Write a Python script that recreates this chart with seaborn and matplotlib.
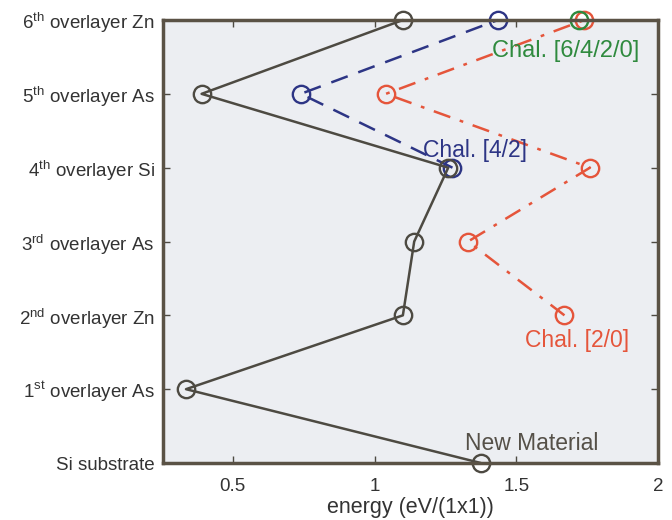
import matplotlib
matplotlib.use("Agg")
import matplotlib.pyplot as plt
import seaborn as sns

# layer labels from bottom (0) to top (6)
layers = ["Si substrate",
          "1$^{\\rm st}$ overlayer As",
          "2$^{\\rm nd}$ overlayer Zn",
          "3$^{\\rm rd}$ overlayer As",
          "4$^{\\rm th}$ overlayer Si",
          "5$^{\\rm th}$ overlayer As",
          "6$^{\\rm th}$ overlayer Zn"]

# energies (eV/(1x1))
new_layer = [0, 1, 2, 3, 4, 5, 6]
new_energy = [1.375, 0.335, 1.10, 1.14, 1.26, 0.39, 1.10]

chal42_layer = [4, 5, 6]
chal42_energy = [1.275, 0.74, 1.435]

chal20_layer = [2, 3, 4, 5, 6]
chal20_energy = [1.67, 1.33, 1.76, 1.04, 1.74]

chal6420_layer = [6]
chal6420_energy = [1.72]

sns.set_style("ticks")
plt.rcParams['font.family'] = ['Liberation Sans', 'DejaVu Sans']
plt.rcParams['mathtext.fontset'] = 'custom'
plt.rcParams['mathtext.rm'] = 'Liberation Sans'

fig = plt.figure(figsize=(6.72, 5.2), dpi=100)
ax = fig.add_axes([0.2426, 0.1096, 0.7366, 0.8519])
ax.set_facecolor("#eceef2")

grey = "#4d4a42"
blue = "#2d3585"
red = "#e5553b"
green = "#2f8a3e"


def draw(x, y, col, ls="-"):
    sns.lineplot(x=x, y=y, color=col, ax=ax, marker="o", markersize=12.5,
                 markerfacecolor="none", markeredgecolor=col, markeredgewidth=1.7,
                 linewidth=1.8, linestyle=ls, sort=False, estimator=None, clip_on=False)


draw(chal20_energy, chal20_layer, red, (0, (7, 4, 1.5, 4)))
draw(chal6420_energy, chal6420_layer, green)
draw(chal42_energy, chal42_layer, blue, (0, (7, 4.5)))
draw(new_energy, new_layer, grey)

ax.set_xlim(0.254, 1.99)
ax.set_ylim(0, 6)
ax.set_xticks([0.5, 1, 1.5, 2])
ax.set_xticklabels(["0.5", "1", "1.5", "2"])
ax.set_yticks(range(7))
ax.set_yticklabels(layers)
ax.tick_params(direction="in", length=5, width=1, colors=grey, labelcolor="#333333",
               labelsize=13.5, top=True, right=True, pad=6)
ax.tick_params(axis="x", pad=11)
ax.set_xlabel("energy (eV/(1x1))", fontsize=15.5, color="#333333", labelpad=1)
ax.set_ylabel("")
for sp in ax.spines.values():
    sp.set_linewidth(2.5)
    sp.set_color("#5a5245")

ax.text(1.415, 5.5, "Chal. [6/4/2/0]", color=green, fontsize=17)
ax.text(1.17, 4.15, "Chal. [4/2]", color=blue, fontsize=16.5)
ax.text(1.53, 1.57, "Chal. [2/0]", color=red, fontsize=16.5)
ax.text(1.32, 0.18, "New Material", color="#555048", fontsize=16.5)

fig.savefig("out.png", dpi=100)
